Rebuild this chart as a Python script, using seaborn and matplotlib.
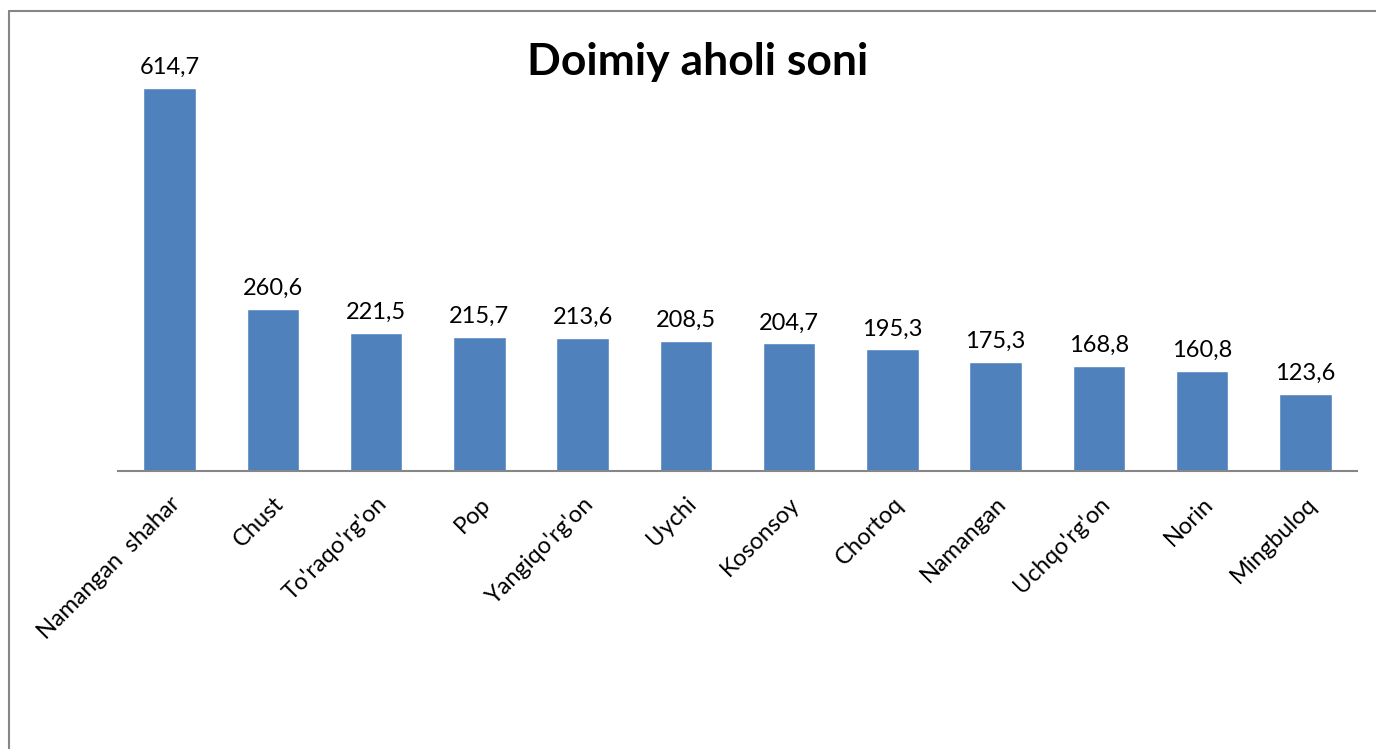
import matplotlib
matplotlib.use("Agg")
import matplotlib.pyplot as plt
import seaborn as sns
import pandas as pd
from matplotlib.lines import Line2D

categories = ["Namangan  shahar", "Chust", "To'raqo'rg'on", "Pop", "Yangiqo'rg'on",
              "Uychi", "Kosonsoy", "Chortoq", "Namangan", "Uchqo'rg'on", "Norin", "Mingbuloq"]
values = [614.7, 260.6, 221.5, 215.7, 213.6, 208.5, 204.7, 195.3, 175.3, 168.8, 160.8, 123.6]
labels = ["614,7", "260,6", "221,5", "215,7", "213,6", "208,5", "204,7", "195,3",
          "175,3", "168,8", "160,8", "123,6"]
title = "Doimiy aholi soni"

sns.set_theme(style="white")
plt.rcParams['font.family'] = ['Lato', 'DejaVu Sans']

W, H = 1376, 749
fig = plt.figure(figsize=(W / 100, H / 100), dpi=100)
ymax = 700
scale = 383 / 614.7
ax_h_px = ymax * scale
ax = fig.add_axes([118 / W, (H - 471) / H, (1357 - 118) / W, ax_h_px / H])

df = pd.DataFrame({"cat": categories, "val": values})
sns.barplot(data=df, x="cat", y="val", color="#4F81BD", saturation=1, width=0.51, ax=ax)
ax.set_ylim(0, ymax)
ax.set_xlim(-0.5, len(categories) - 0.5)

for i, (v, lab) in enumerate(zip(values, labels)):
    ax.text(i, v + 16, lab, ha="center", va="bottom", fontsize=17, color="black")

ax.set_xlabel("")
ax.set_ylabel("")
ax.set_yticks([])
ax.tick_params(axis="x", length=0, pad=16)
ax.set_xticks(range(len(categories)))
ax.set_xticklabels(categories, rotation=45, ha="right", rotation_mode="anchor",
                   fontsize=17, color="black")
for s in ["top", "right", "left"]:
    ax.spines[s].set_visible(False)
ax.spines["bottom"].set_color("#868686")
ax.spines["bottom"].set_linewidth(1.5)

fig.text(698 / W, 1 - 62 / H, title, ha="center", va="center",
         fontsize=32, fontweight="bold", color="black")

# outer frame (left and top edges)
fig.add_artist(Line2D([9 / W, 9 / W], [0, 1 - 11 / H], transform=fig.transFigure,
                      color="#868686", lw=1.5))
fig.add_artist(Line2D([9 / W, 1], [1 - 11 / H, 1 - 11 / H], transform=fig.transFigure,
                      color="#868686", lw=1.5))

fig.savefig("out.png", dpi=100, facecolor="white")
